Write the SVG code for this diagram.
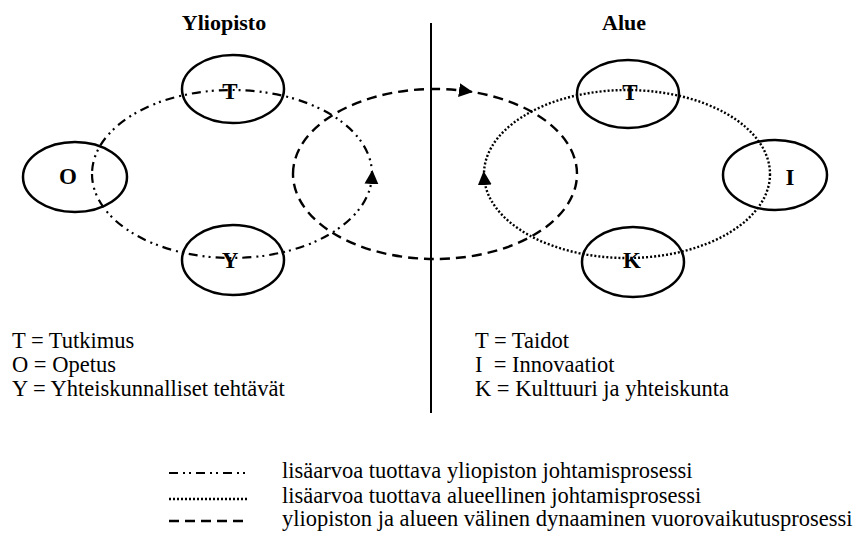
<svg xmlns="http://www.w3.org/2000/svg" width="859" height="537" viewBox="0 0 859 537">
<style>
text{font-family:'Liberation Serif','Times New Roman','DejaVu Serif',serif;fill:#000}
.t{font-size:22.5px}
.h{font-size:22px;font-weight:bold;text-anchor:middle}
.lbl{font-size:23px;font-weight:bold;text-anchor:middle}
.node{fill:none;stroke:#000;stroke-width:2.5}
.dd{fill:none;stroke:#000;stroke-width:2.2;stroke-dasharray:9 5 2 4 2 5}
.dot{fill:none;stroke:#000;stroke-width:2.4;stroke-dasharray:2 2}
.dash{fill:none;stroke:#000;stroke-width:2.4;stroke-dasharray:10 6}
</style>
<defs>
<marker id="arr" viewBox="0 0 10 10" refX="5" refY="5" markerUnits="userSpaceOnUse" markerWidth="14" markerHeight="14" orient="auto">
<path d="M0,0 L10,5 L0,10 z" fill="#000"/>
</marker>
</defs>
<rect width="859" height="537" fill="#fff"/>
<g font-family="'Liberation Serif', 'Times New Roman', 'DejaVu Serif', serif">
<text class="h" x="224" y="30">Yliopisto</text>
<text class="h" x="624" y="30">Alue</text>
</g>
<line x1="431" y1="23" x2="431" y2="413" stroke="#000" stroke-width="2"/>
<g id="connectors">
<path id="yliopisto-process" class="dd" marker-mid="url(#arr)" d="M92,174 A140 84 0 0 0 371.91,177 A140 84 0 1 0 92,174"/>
<path id="interaction-process" class="dash" marker-mid="url(#arr)" d="M293,174 A142 85 0 0 1 466,91.04 A142 85 0 1 1 293,174"/>
<path id="alue-process" class="dot" marker-mid="url(#arr)" d="M770,174 A143 84 0 0 1 484.16,178 A143 84 0 1 1 770,174"/>
</g>
<g font-family="'Liberation Serif', 'Times New Roman', 'DejaVu Serif', serif">
<g id="node-O"><ellipse class="node" cx="75" cy="177" rx="52" ry="35"/><text class="lbl" x="68" y="184">O</text></g>
<g id="node-T-yliopisto"><ellipse class="node" cx="233" cy="89" rx="51" ry="34"/><text class="lbl" x="230" y="99">T</text></g>
<g id="node-Y"><ellipse class="node" cx="233" cy="260" rx="51" ry="35"/><text class="lbl" x="230" y="268">Y</text></g>
<g id="node-T-alue"><ellipse class="node" cx="628" cy="94" rx="51" ry="34"/><text class="lbl" x="630" y="100">T</text></g>
<g id="node-I"><ellipse class="node" cx="775" cy="175" rx="52" ry="35"/><text class="lbl" x="790" y="185">I</text></g>
<g id="node-K"><ellipse class="node" cx="633" cy="262" rx="51" ry="35"/><text class="lbl" x="632" y="268">K</text></g>
<g id="key-left">
<text class="t" x="12" y="348">T = Tutkimus</text>
<text class="t" x="12" y="372">O = Opetus</text>
<text class="t" x="12" y="396">Y = Yhteiskunnalliset tehtävät</text>
</g>
<g id="key-right">
<text class="t" x="475" y="348">T = Taidot</text>
<text class="t" x="475" y="372" xml:space="preserve">I  = Innovaatiot</text>
<text class="t" x="475" y="396">K = Kulttuuri ja yhteiskunta</text>
</g>
<g id="legend">
<line class="dd" x1="169" y1="473" x2="248" y2="473"/>
<line class="dot" x1="169" y1="499" x2="248" y2="499"/>
<line class="dash" x1="169" y1="521" x2="248" y2="521"/>
<text class="t" x="282" y="478">lisäarvoa tuottava yliopiston johtamisprosessi</text>
<text class="t" x="282" y="503">lisäarvoa tuottava alueellinen johtamisprosessi</text>
<text class="t" x="282" y="526">yliopiston ja alueen välinen dynaaminen vuorovaikutusprosessi</text>
</g>
</g>
</svg>
